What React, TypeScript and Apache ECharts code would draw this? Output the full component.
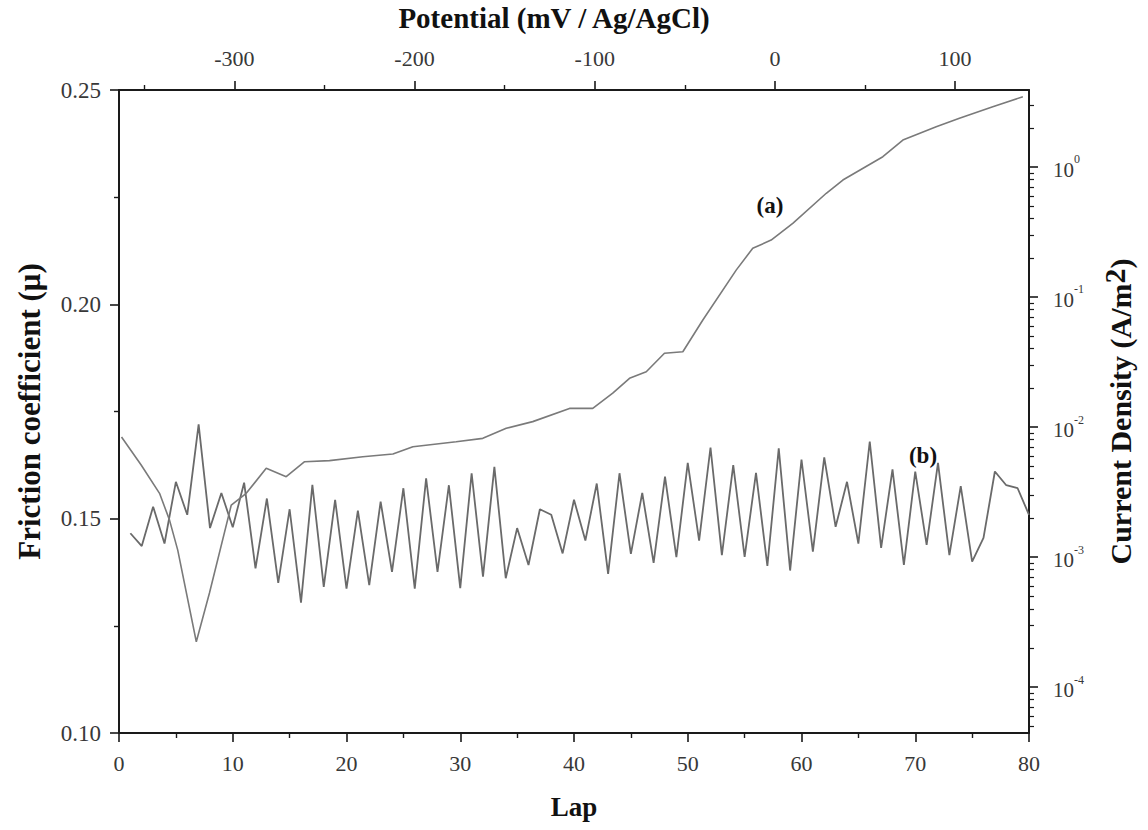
import React, { useEffect, useRef } from 'react';
import * as echarts from 'echarts';

// ---------- Data ----------
const laps = [
  1, 2, 3, 4, 5, 6, 7, 8, 9, 10, 11, 12, 13, 14, 15, 16, 17, 18, 19, 20,
  21, 22, 23, 24, 25, 26, 27, 28, 29, 30, 31, 32, 33, 34, 35, 36, 37, 38, 39, 40,
  41, 42, 43, 44, 45, 46, 47, 48, 49, 50, 51, 52, 53, 54, 55, 56, 57, 58, 59, 60,
  61, 62, 63, 64, 65, 66, 67, 68, 69, 70, 71, 72, 73, 74, 75, 76, 77, 78, 79, 80,
];
const friction = [
  0.1466, 0.1436, 0.1528, 0.1442, 0.1586, 0.1509, 0.172, 0.1478, 0.156, 0.148,
  0.1584, 0.1384, 0.1547, 0.135, 0.1522, 0.1304, 0.1579, 0.1341, 0.1544, 0.1337,
  0.1519, 0.1345, 0.154, 0.1376, 0.1571, 0.1337, 0.1594, 0.1376, 0.1578, 0.1338,
  0.1606, 0.1365, 0.1621, 0.1361, 0.1478, 0.1392, 0.1522, 0.1509, 0.1419, 0.1544,
  0.1449, 0.1582, 0.1371, 0.1606, 0.1418, 0.156, 0.1397, 0.1598, 0.141, 0.163,
  0.1449, 0.1666, 0.1415, 0.1625, 0.1411, 0.1607, 0.139, 0.1664, 0.1379, 0.1638,
  0.1423, 0.1643, 0.1481, 0.1586, 0.1442, 0.168, 0.1432, 0.1615, 0.1392, 0.161,
  0.1439, 0.163, 0.1415, 0.1576, 0.14, 0.1455, 0.161, 0.1578, 0.1571, 0.1509,
];

// Curve (a): polarisation curve, potential (mV vs Ag/AgCl) and current density (A/m2)
const potential = [
  -362.6, -351.7, -341.5, -336.0, -331.4, -321.1, -313.8, -301.7, -293.4, -282.3,
  -271.2, -261.0, -247.2, -228.7, -212.0, -200.9, -176.9, -162.1, -149.1, -134.4,
  -114.0, -101.1, -90.0, -80.7, -71.4, -61.3, -51.1, -40.0, -21.5, -12.3,
  -2.1, 9.9, 28.5, 37.7, 59.9, 71.0, 89.5, 102.4, 120.9, 137.6,
];
const currentDensity = [
  8.38e-3, 5.10e-3, 3.09e-3, 1.93e-3, 1.13e-3, 2.23e-4, 5.29e-4, 2.51e-3, 3.09e-3, 4.81e-3,
  4.15e-3, 5.41e-3, 5.51e-3, 5.91e-3, 6.20e-3, 7.05e-3, 7.70e-3, 8.18e-3, 9.77e-3, 1.10e-2,
  1.39e-2, 1.39e-2, 1.82e-2, 2.37e-2, 2.66e-2, 3.69e-2, 3.79e-2, 6.65e-2, 0.161, 0.237,
  0.274, 0.369, 0.628, 0.794, 1.20, 1.61, 2.04, 2.37, 2.91, 3.47,
];

// Axis ranges and tick lists
const lapRange = [0, 80];
const frictionRange = [0.1, 0.25];
const potentialRange = [-364, 141];
const currentRange = [4.43e-5, 3.91];
const potentialMajorTicks = [-300, -200, -100, 0, 100];
const potentialMinorTicks = [-350, -250, -150, -50, 50];
const currentDecades = [-5, -4, -3, -2, -1, 0];
const currentMinorMultipliers = [2, 3, 4, 5, 6, 7, 8, 9];

const FONT = "'Liberation Serif', 'Times New Roman', serif";
const LABEL_COLOR = '#383838';
const AXIS_COLOR = '#1a1a1a';

export default function App() {
  const ref = useRef<HTMLDivElement>(null);

  useEffect(() => {
    if (!ref.current) return;
    const chart = echarts.init(ref.current, undefined, { renderer: 'svg' });

    const logMin = Math.log10(currentRange[0]);
    const logMax = Math.log10(currentRange[1]);
    const minorLogTicks: number[] = [];
    currentDecades.forEach((d) => {
      currentMinorMultipliers.forEach((m) => {
        const v = Math.log10(m) + d;
        if (v > logMin && v < logMax) minorLogTicks.push(v);
      });
    });

    const axisLine = { show: true, onZero: false, lineStyle: { color: AXIS_COLOR, width: 2 } };
    const hiddenLine = { show: false, onZero: false };
    const majorTick = { show: true, length: 9, lineStyle: { color: AXIS_COLOR, width: 1.6 } };
    const minorTick = { show: true, splitNumber: 2, length: 5, lineStyle: { color: AXIS_COLOR, width: 1.4 } };
    const tickLabel = { color: LABEL_COLOR, fontFamily: FONT, fontSize: 22 };
    const nameStyle = { color: '#111', fontFamily: FONT, fontSize: 28, fontWeight: 'bold' as const };

    chart.setOption({
      animation: false,
      backgroundColor: '#ffffff',
      grid: {
        left: 119,
        right: 119,
        top: 90,
        bottom: 97,
        containLabel: false,
        outerBoundsMode: 'none',
      },
      xAxis: [
        {
          type: 'value',
          position: 'bottom',
          min: lapRange[0],
          max: lapRange[1],
          interval: 10,
          name: 'Lap',
          nameLocation: 'middle',
          nameGap: 60,
          nameTextStyle: { ...nameStyle, fontSize: 27 },
          axisLine,
          axisTick: majorTick,
          minorTick,
          splitLine: { show: false },
          axisLabel: { ...tickLabel, margin: 19 },
        },
        {
          type: 'value',
          position: 'top',
          min: potentialRange[0],
          max: potentialRange[1],
          name: 'Potential (mV / Ag/AgCl)',
          nameLocation: 'middle',
          nameGap: 58,
          nameTextStyle: { ...nameStyle, fontSize: 29, padding: [0, 40, 0, 0] },
          axisLine,
          axisTick: { ...majorTick, customValues: potentialMajorTicks },
          splitLine: { show: false },
          axisLabel: { ...tickLabel, margin: 21, customValues: potentialMajorTicks },
        },
        {
          type: 'value',
          position: 'top',
          min: potentialRange[0],
          max: potentialRange[1],
          axisLine: hiddenLine,
          axisTick: { show: true, length: 5, lineStyle: { color: AXIS_COLOR, width: 1.4 }, customValues: potentialMinorTicks },
          axisLabel: { show: false },
          splitLine: { show: false },
        },
      ],
      yAxis: [
        {
          type: 'value',
          position: 'left',
          min: frictionRange[0],
          max: frictionRange[1],
          interval: 0.05,
          name: 'Friction coefficient (\u03bc)',
          nameLocation: 'middle',
          nameGap: 74,
          nameTextStyle: { ...nameStyle, fontSize: 31 },
          axisLine,
          axisTick: majorTick,
          minorTick,
          splitLine: { show: false },
          axisLabel: {
            ...tickLabel,
            fontSize: 23,
            margin: 18,
            formatter: (v: number) => v.toFixed(2),
          },
        },
        {
          type: 'log',
          logBase: 10,
          position: 'right',
          min: currentRange[0],
          max: currentRange[1],
          name: 'Current Density (A/m{sup|2})',
          nameLocation: 'middle',
          nameGap: 70,
          nameTextStyle: {
            ...nameStyle,
            fontSize: 30,
            rich: {
              sup: { fontFamily: FONT, fontSize: 30, fontWeight: 'bold', color: '#111', verticalAlign: 'top', padding: [0, 0, 12, 0] },
            },
          },
          axisLine,
          axisTick: majorTick,
          splitLine: { show: false },
          axisLabel: {
            margin: 24,
            showMinLabel: false,
            showMaxLabel: false,
            formatter: (v: number) => `{b|10}{s|${Math.round(Math.log10(v))}}`,
            rich: {
              b: { color: LABEL_COLOR, fontFamily: FONT, fontSize: 21, lineHeight: 27, verticalAlign: 'bottom' },
              s: { color: LABEL_COLOR, fontFamily: FONT, fontSize: 12, lineHeight: 27, verticalAlign: 'top' },
            },
          },
        },
        {
          type: 'value',
          position: 'right',
          min: logMin,
          max: logMax,
          axisLine: hiddenLine,
          axisTick: { show: true, length: 5, lineStyle: { color: AXIS_COLOR, width: 1.2 }, customValues: minorLogTicks },
          axisLabel: { show: false },
          splitLine: { show: false },
        },
      ],
      series: [
        {
          name: '(b)',
          type: 'line',
          xAxisIndex: 0,
          yAxisIndex: 0,
          data: laps.map((l, i) => [l, friction[i]]),
          showSymbol: false,
          symbol: 'none',
          lineStyle: { color: '#6a6a6a', width: 1.8 },
        },
        {
          name: '(a)',
          type: 'line',
          xAxisIndex: 1,
          yAxisIndex: 1,
          data: potential.map((p, i) => [p, currentDensity[i]]),
          showSymbol: false,
          symbol: 'none',
          lineStyle: { color: '#7a7a7a', width: 1.6 },
        },
      ],
      graphic: [
        {
          type: 'text',
          x: 770,
          y: 205,
          style: { text: '(a)', font: `bold 23px ${FONT}`, fill: '#111', align: 'center', verticalAlign: 'middle' },
        },
        {
          type: 'text',
          x: 923,
          y: 455,
          style: { text: '(b)', font: `bold 23px ${FONT}`, fill: '#111', align: 'center', verticalAlign: 'middle' },
        },
      ],
    });

    return () => chart.dispose();
  }, []);

  return (
    <div
      ref={ref}
      style={{ position: 'fixed', left: 0, top: 0, width: 1148, height: 830, background: '#fff' }}
    />
  );
}
